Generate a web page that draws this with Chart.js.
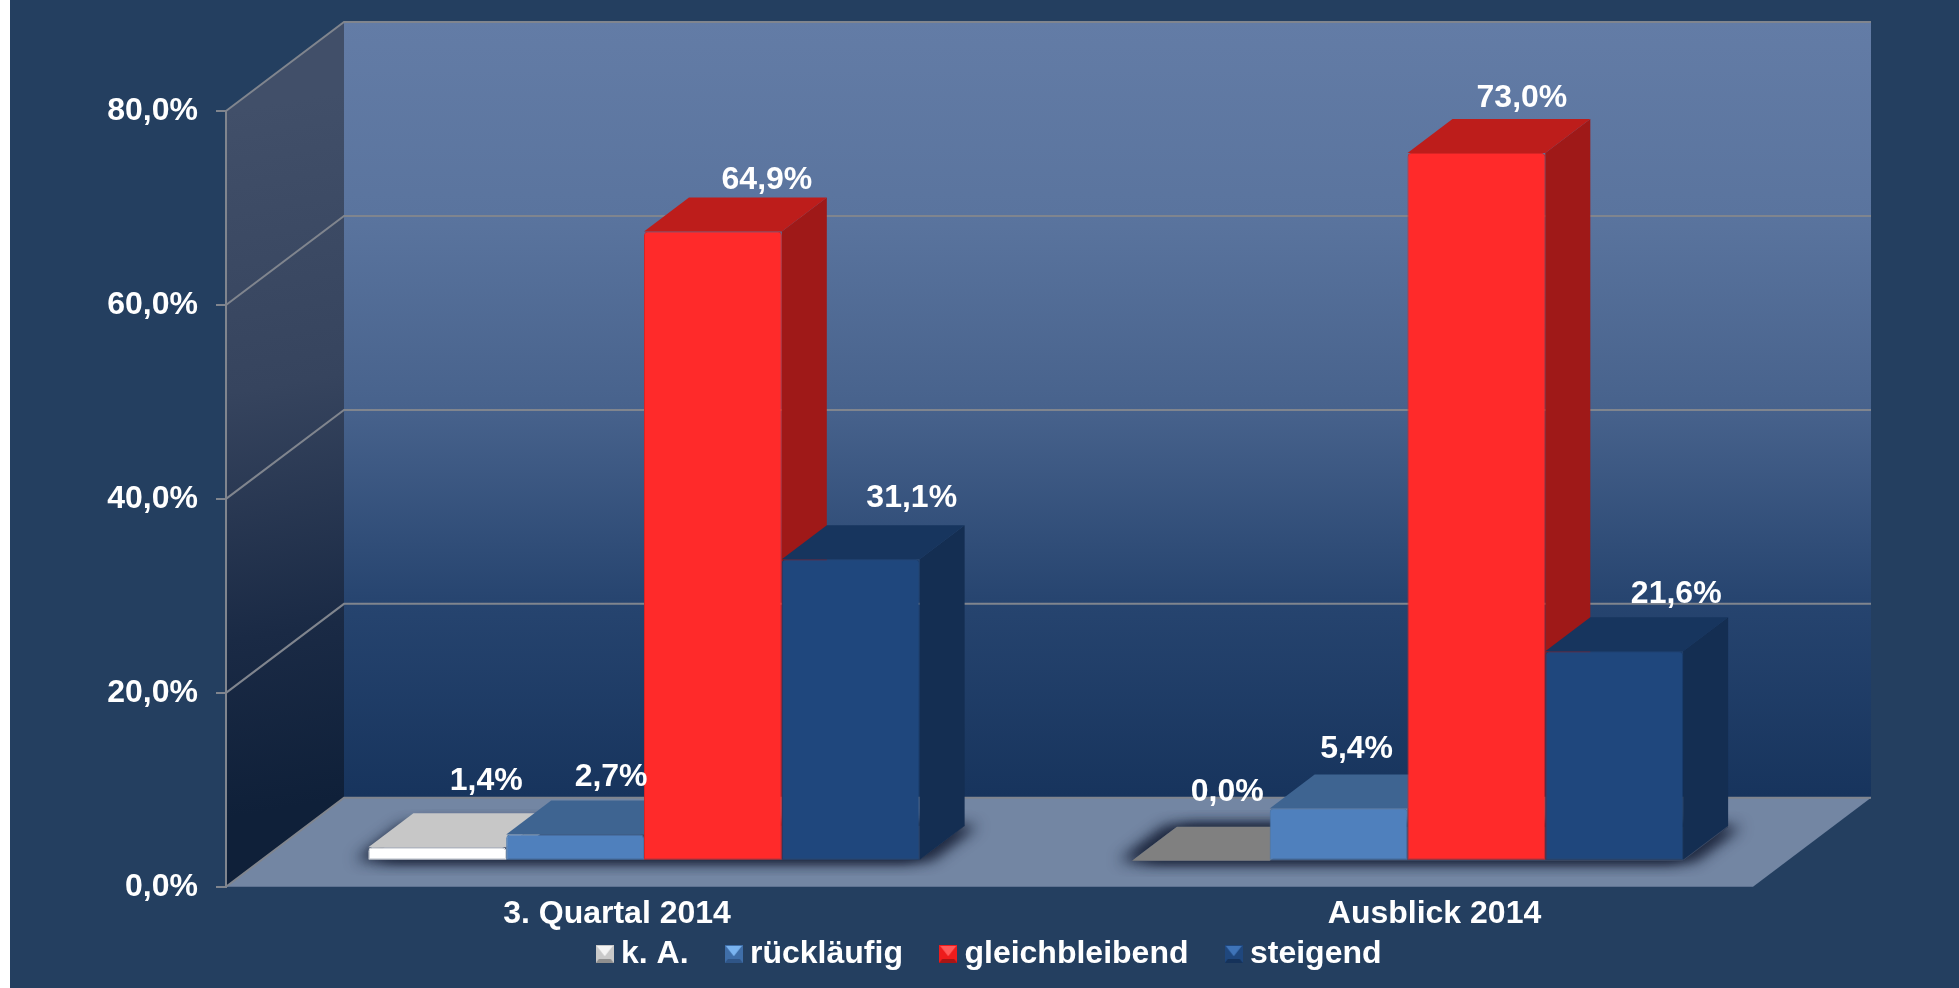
<!DOCTYPE html>
<html>
<head>
<meta charset="utf-8">
<title>Geschäftslage</title>
<script src="https://cdn.jsdelivr.net/npm/chart.js@4"></script>
<style>
  html, body { margin: 0; padding: 0; background: #ffffff; }
  canvas { display: block; }
</style>
</head>
<body>
<canvas id="chart" width="1959" height="988"></canvas>
<script>
const categories = ['3. Quartal 2014', 'Ausblick 2014'];
const seriesNames = ['k. A.', 'rückläufig', 'gleichbleibend', 'steigend'];
const kA = [1.4, 0.0];
const ruecklaeufig = [2.7, 5.4];
const gleichbleibend = [64.9, 73.0];
const steigend = [31.1, 21.6];
const yTicks = [0, 20, 40, 60, 80];

// 3D look: [front, top, side, border]
const barColors = [
    ['#ffffff', '#c7c7c7', '#b0b0b0', '#f0f0f0'],
    ['#4f80bd', '#3e6491', '#33527a', '#4675ad'],
    ['#ff2a2a', '#bd1d1b', '#9f1918', '#d82424'],
    ['#1f477d', '#17355e', '#142e52', '#1a3d6c']
];
// legend squares: [body, top, bottom]
const markerColors = [
    ['#c9c9c9', '#f4f4f4', '#8f8f8f'],
    ['#3f6ea8', '#7ab4f0', '#2f5587'],
    ['#ee1c1c', '#ff5a5a', '#a81515'],
    ['#1f477d', '#3f74b8', '#15325a']
];
// wall offset of the back plane, offset of the bars on the floor, bar depth
const wall = { x: 118, y: -89 };
const barShift = { x: 36.25, y: -26 };
const barDepth = { x: 45, y: -34 };
const lineColor = '#80858e';

// value labels were placed by hand in the original: offset from bar top centre
const labelNudge = [
    [[49, -66.5], [26.5, -69]],
    [[36, -57], [18, -59]],
    [[54, -51.5], [45.5, -54.5]],
    [[61, -61], [62, -57]]
];
const categoryLabelShift = [9.25, 63.25];
const legendShift = 116.5;

const fontFamily = '"Liberation Sans", Arial, sans-serif';

function poly(ctx, pts, fill) {
    ctx.beginPath();
    pts.forEach((p, i) => (i ? ctx.lineTo(p[0], p[1]) : ctx.moveTo(p[0], p[1])));
    ctx.closePath();
    if (fill) {
        ctx.fillStyle = fill;
        ctx.fill();
    }
}

function makeMarker(c) {
    const s = 18;
    const m = document.createElement('canvas');
    m.width = s;
    m.height = s;
    const g = m.getContext('2d');
    g.fillStyle = c[0];
    g.fillRect(0, 0, s, s);
    poly(g, [[1, 1], [s - 1, 1], [s / 2, s * 0.62]], c[1]);
    poly(g, [[0, s], [s, s], [s - 3, s - 4], [3, s - 4]], c[2]);
    return m;
}
const markers = markerColors.map(makeMarker);

const wallPlugin = {
    id: 'wall3d',
    afterLayout(chart) {
        chart.legend.left += legendShift;
        chart.legend.right += legendShift;
        // labels get clipped to the scale box and are moved one by one
        const x = chart.scales.x;
        x.bottom = x.top + 50;
        x.getLabelItems(chart.chartArea).forEach((item, i) => {
            item.options.translation[0] += categoryLabelShift[i];
        });
    },
    beforeDraw(chart) {
        const ctx = chart.ctx;
        const { left, right } = chart.chartArea;
        const y = chart.scales.y;
        const y0 = y.getPixelForValue(0);
        const yTop = y.getPixelForValue(80);

        ctx.save();
        ctx.fillStyle = '#243f60';
        ctx.fillRect(10, 0, chart.width - 10, chart.height);

        // back wall
        const backGrad = ctx.createLinearGradient(0, yTop + wall.y, 0, y0 + wall.y);
        backGrad.addColorStop(0, '#637ca6');
        backGrad.addColorStop(0.25, '#5a749e');
        backGrad.addColorStop(0.5, '#47628c');
        backGrad.addColorStop(0.75, '#26446f');
        backGrad.addColorStop(1, '#17345d');
        ctx.fillStyle = backGrad;
        ctx.fillRect(left + wall.x, yTop + wall.y, right - left, y0 - yTop);

        // side wall
        const sideGrad = ctx.createLinearGradient(left, yTop, left + wall.x, y0 + wall.y);
        sideGrad.addColorStop(0, '#414f69');
        sideGrad.addColorStop(0.4, '#36445e');
        sideGrad.addColorStop(0.75, '#1a2a45');
        sideGrad.addColorStop(1, '#0f2039');
        poly(ctx, [[left, yTop], [left + wall.x, yTop + wall.y], [left + wall.x, y0 + wall.y], [left, y0]], sideGrad);

        // floor
        poly(ctx, [[left, y0], [right, y0], [right + wall.x, y0 + wall.y], [left + wall.x, y0 + wall.y]], '#7386a3');

        // grid lines over side and back wall
        ctx.strokeStyle = lineColor;
        ctx.lineWidth = 2;
        yTicks.forEach(v => {
            const py = y.getPixelForValue(v);
            ctx.beginPath();
            ctx.moveTo(left, py);
            ctx.lineTo(left + wall.x, py + wall.y);
            ctx.lineTo(right + wall.x, py + wall.y);
            ctx.stroke();
        });
        ctx.restore();
    },
    beforeDatasetsDraw(chart) {
        const ctx = chart.ctx;
        const metas = chart.data.datasets.map((_, i) => chart.getDatasetMeta(i));

        // blurred shadow round each group of bars
        const first = metas[0].data;
        const last = metas[metas.length - 1].data;
        categories.forEach((_, i) => {
            const l = first[i].x - first[i].width / 2 + barShift.x;
            const r = last[i].x + last[i].width / 2 + barShift.x;
            const b = first[i].base + barShift.y;
            [-14, -7, 7, 14].forEach(dx => {
                ctx.save();
                ctx.shadowColor = 'rgba(28, 38, 60, 0.75)';
                ctx.shadowBlur = 14;
                ctx.shadowOffsetX = dx;
                poly(ctx, [[l, b], [r, b], [r + barDepth.x, b + barDepth.y], [l + barDepth.x, b + barDepth.y]], '#3d4b66');
                ctx.restore();
            });
        });

        // left bars first, so each bar covers the one before it (chart.js goes the other way)
        metas.forEach((meta, s) => {
            const colors = barColors[s];
            ctx.save();
            ctx.translate(barShift.x, barShift.y);
            meta.data.forEach(bar => {
                const l = bar.x - bar.width / 2;
                const r = bar.x + bar.width / 2;
                const dx = barDepth.x;
                const dy = barDepth.y;
                const flat = Math.abs(bar.base - bar.y) < 1;
                poly(ctx, [[r, bar.y], [r + dx, bar.y + dy], [r + dx, bar.base + dy], [r, bar.base]], colors[2]);
                poly(ctx, [[l, bar.y], [r, bar.y], [r + dx, bar.y + dy], [l + dx, bar.y + dy]], flat ? '#808080' : colors[1]);
            });
            meta.controller.draw();
            ctx.restore();
        });

        // value labels sit on top of everything
        ctx.save();
        ctx.font = 'bold 32px ' + fontFamily;
        ctx.fillStyle = '#ffffff';
        ctx.textAlign = 'center';
        ctx.textBaseline = 'middle';
        chart.data.datasets.forEach((ds, s) => {
            metas[s].data.forEach((bar, c) => {
                const text = ds.data[c].toFixed(1).replace('.', ',') + '%';
                ctx.fillText(text, bar.x + barShift.x + labelNudge[s][c][0], bar.y + barShift.y + labelNudge[s][c][1]);
            });
        });
        ctx.restore();
        return false;
    }
};

new Chart(document.getElementById('chart'), {
    type: 'bar',
    plugins: [wallPlugin],
    data: {
        labels: categories,
        datasets: [kA, ruecklaeufig, gleichbleibend, steigend].map((values, i) => ({
            label: seriesNames[i],
            data: values,
            backgroundColor: barColors[i][0],
            borderColor: barColors[i][3],
            borderWidth: 1,
            borderSkipped: false,
            borderRadius: { topLeft: 4, topRight: 4, bottomLeft: 0, bottomRight: 0 },
            barPercentage: 1,
            categoryPercentage: 0.722
        }))
    },
    options: {
        responsive: false,
        animation: false,
        layout: { padding: { top: 111, right: 206, bottom: 8, left: 0 } },
        plugins: {
            tooltip: { enabled: false },
            legend: {
                position: 'bottom',
                labels: {
                    color: '#ffffff',
                    font: { size: 32, weight: 'bold', family: fontFamily },
                    usePointStyle: true,
                    boxWidth: 0.5,
                    padding: 45,
                    generateLabels: () => seriesNames.map((name, i) => ({
                        text: name,
                        pointStyle: markers[i],
                        fontColor: '#ffffff',
                        lineWidth: 0,
                        datasetIndex: i
                    }))
                }
            }
        },
        scales: {
            x: {
                grid: { display: false },
                border: { display: false },
                ticks: {
                    color: '#ffffff',
                    font: { size: 32, weight: 'bold', family: fontFamily },
                    padding: 0,
                    maxRotation: 0
                },
                afterFit(scale) {
                    scale.height = 6.2;
                }
            },
            y: {
                min: 0,
                max: 80,
                grid: { drawOnChartArea: false, color: lineColor, lineWidth: 2, tickLength: 10 },
                border: { color: lineColor, width: 2 },
                ticks: {
                    stepSize: 20,
                    color: '#ffffff',
                    padding: 18,
                    font: { size: 32, weight: 'bold', family: fontFamily },
                    callback: v => v.toFixed(1).replace('.', ',') + '%'
                },
                afterFit(scale) {
                    scale.width = 226;
                }
            }
        }
    }
});
</script>
</body>
</html>
